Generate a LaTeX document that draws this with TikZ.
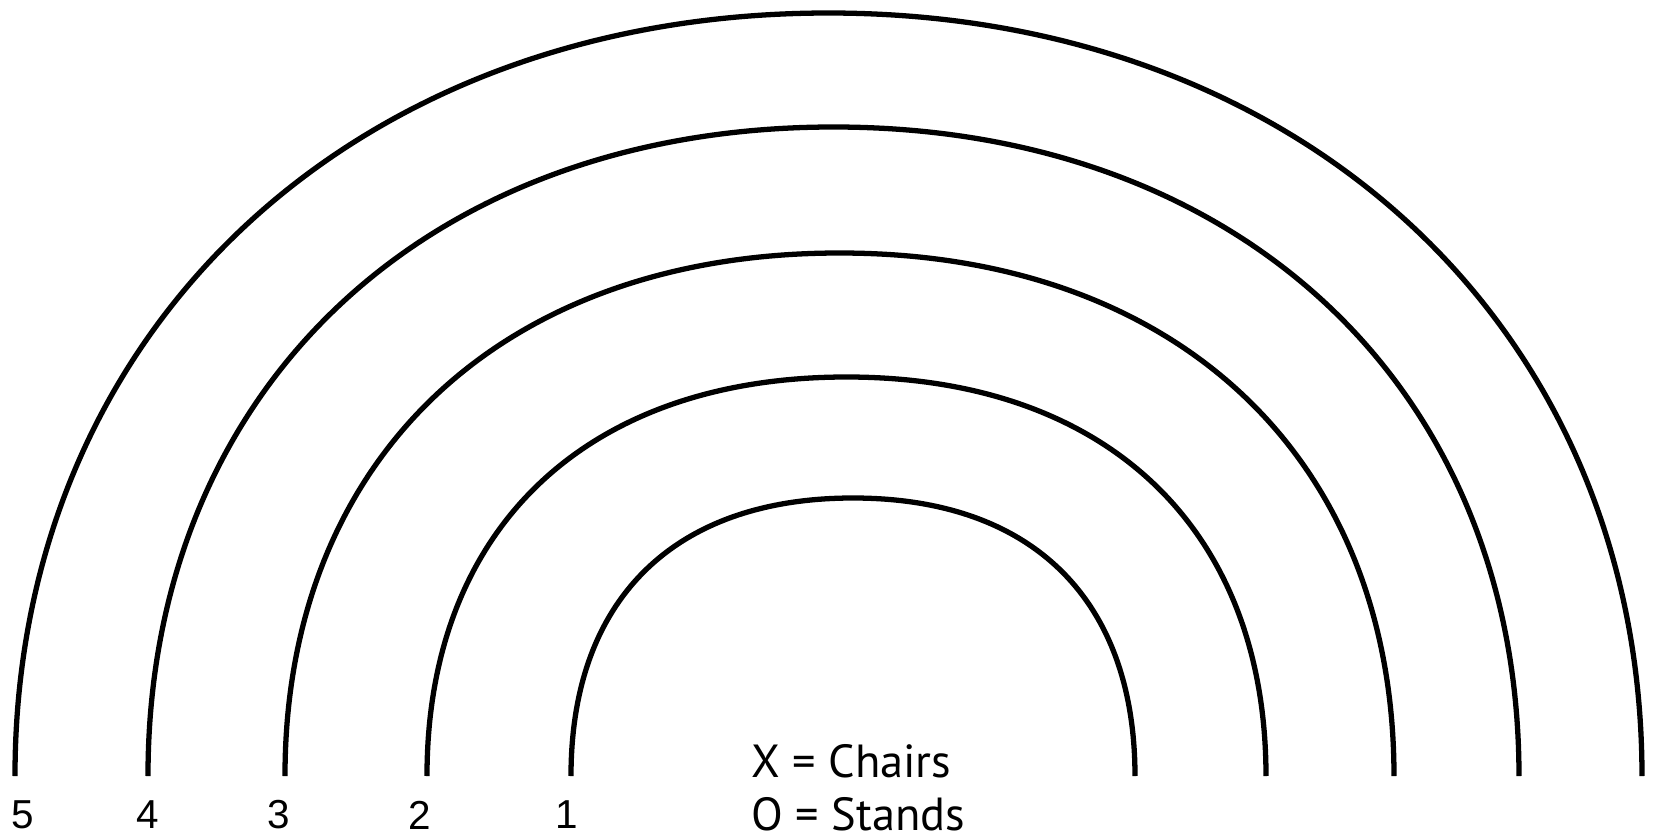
\documentclass[tikz,border=0pt]{standalone}
\usepackage{fontspec}
\setmainfont{Liberation Sans}
\newfontfamily\legendfont{PT Sans}
\begin{document}
\begin{tikzpicture}[x=0.01cm,y=-0.01cm,
  ring/.style={line width=1.5pt, black},
  num/.style={font=\fontsize{11.5}{13}\selectfont, inner sep=0pt},
  legend/.style={font=\legendfont\fontsize{13.2}{15}\selectfont, inner sep=0pt, anchor=west}]
\useasboundingbox (0,0) rectangle (1653,839);
\foreach \L/\R/\T/\K in {571/1135/498/0.635, 427/1266/377/0.62, 285/1394/253/0.608, 148/1519/127/0.595, 15/1642/13/0.584} {
  \pgfmathsetmacro\C{(\L+\R)/2}
  \pgfmathsetmacro\H{776-\T}
  \pgfmathsetmacro\A{(\R-\L)/2}
  \draw[ring] (\L,776) .. controls (\L,776-\K*\H) and (\C-\K*\A,\T) .. (\C,\T)
              .. controls (\C+\K*\A,\T) and (\R,776-\K*\H) .. (\R,776);
}
\node[num] (n5) at (23,815) {5};
\node[num] (n4) at (148,815) {4};
\node[num] (n3) at (279,815) {3};
\node[num] (n2) at (420,815) {2};
\node[num] (n1) at (567,815) {1};
\node[legend] (chairs) at (751,761) {X = Chairs};
\node[legend] (stands) at (751,814) {O = Stands};
\end{tikzpicture}
\end{document}
